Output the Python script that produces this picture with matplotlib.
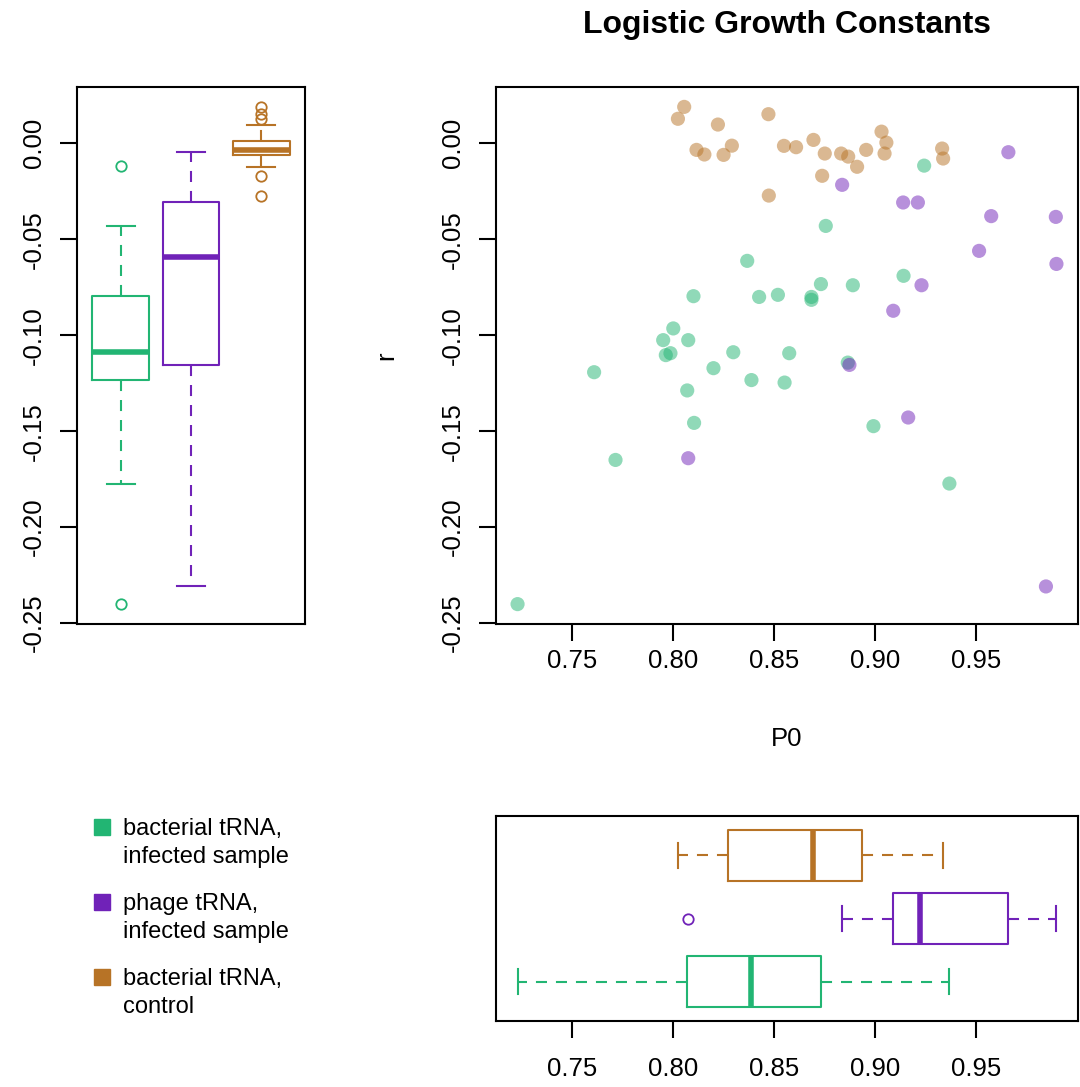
import matplotlib
matplotlib.use("Agg")  # non-interactive backend
import matplotlib.pyplot as plt
import numpy as np

plt.rcParams["font.family"] = ["Liberation Sans", "DejaVu Sans"]

# --- data ------------------------------------------------------------------
groups = [
    ["bacterial tRNA,", "infected sample"],
    ["phage tRNA,", "infected sample"],
    ["bacterial tRNA,", "control"],
]
colors = ["#22B573", "#7022B8", "#B77326"]

bact_p0 = [0.8365, 0.8099, 0.8424, 0.8517, 0.7999, 0.7949, 0.8073, 0.7962,
           0.7985, 0.8296, 0.8573, 0.7607, 0.8198, 0.8386, 0.8550, 0.8068,
           0.8102, 0.7713, 0.7228, 0.9241, 0.8754, 0.8730, 0.8683, 0.8683,
           0.8888, 0.9139, 0.8863, 0.8990, 0.9366]
bact_r = [-0.0613, -0.0797, -0.0801, -0.0790, -0.0965, -0.1026, -0.1026, -0.1104,
          -0.1094, -0.1089, -0.1094, -0.1193, -0.1172, -0.1234, -0.1247, -0.1288,
          -0.1457, -0.1650, -0.2401, -0.0117, -0.0431, -0.0734, -0.0801, -0.0816,
          -0.0740, -0.0691, -0.1143, -0.1474, -0.1773]

phage_p0 = [0.9658, 0.8835, 0.9137, 0.9210, 0.9573, 0.9893, 0.9513, 0.9896,
            0.9228, 0.9088, 0.8871, 0.9162, 0.9844, 0.8073]
phage_r = [-0.0047, -0.0217, -0.0309, -0.0309, -0.0380, -0.0384, -0.0561, -0.0629,
           -0.0740, -0.0873, -0.1155, -0.1429, -0.2309, -0.1641]

ctrl_p0 = [0.8053, 0.8022, 0.8220, 0.8470, 0.8114, 0.8153, 0.8248, 0.8289,
           0.8472, 0.8547, 0.8607, 0.8693, 0.8749, 0.8736, 0.8830, 0.8865,
           0.8909, 0.8954, 0.9030, 0.9054, 0.9045, 0.9330, 0.9335]
ctrl_r = [0.0189, 0.0127, 0.0097, 0.0151, -0.0035, -0.0059, -0.0061, -0.0013,
          -0.0273, -0.0014, -0.0021, 0.0017, -0.0054, -0.0170, -0.0054, -0.0070,
          -0.0123, -0.0035, 0.0060, 0.0003, -0.0054, -0.0028, -0.0080]

p0_sets = [bact_p0, phage_p0, ctrl_p0]
r_sets = [bact_r, phage_r, ctrl_r]

x_ticks = [0.75, 0.80, 0.85, 0.90, 0.95]
y_ticks = [0.0, -0.05, -0.10, -0.15, -0.20, -0.25]


def box_stats(vals):
    """Tukey hinges (R fivenum) with 1.5*IQR whiskers."""
    x = np.sort(np.asarray(vals, dtype=float))
    n = len(x)
    n4 = np.floor((n + 3) / 2) / 2
    d = np.array([1, n4, (n + 1) / 2, n + 1 - n4, n]) - 1
    q = 0.5 * (x[np.floor(d).astype(int)] + x[np.ceil(d).astype(int)])
    iqr = q[3] - q[1]
    lo, hi = q[1] - 1.5 * iqr, q[3] + 1.5 * iqr
    inside = x[(x >= lo) & (x <= hi)]
    return dict(med=q[2], q1=q[1], q3=q[3], whislo=inside.min(),
                whishi=inside.max(), fliers=x[(x < lo) | (x > hi)])


def draw_box(ax, vals, pos, color, orientation):
    lw = 1.5
    ax.bxp([box_stats(vals)], positions=[pos], widths=0.8,
           orientation=orientation, manage_ticks=False,
           boxprops=dict(color=color, lw=lw),
           medianprops=dict(color=color, lw=4.0, solid_capstyle="butt"),
           whiskerprops=dict(color=color, lw=lw, linestyle=(0, (5.3, 4.3))),
           capprops=dict(color=color, lw=lw),
           flierprops=dict(marker="o", markerfacecolor="none",
                           markeredgecolor=color, markersize=7.5,
                           markeredgewidth=1.3))


def limits(vals):
    lo, hi = min(vals), max(vals)
    pad = 0.04 * (hi - lo)
    return lo - pad, hi + pad


def style(ax):
    for sp in ax.spines.values():
        sp.set_linewidth(1.5)
    ax.tick_params(direction="out", length=12, width=1.5, labelsize=18.5)


W, H = 1080, 1087
fig = plt.figure(figsize=(W / 100, H / 100), dpi=100)


def px_axes(x0, y0, x1, y1):
    return fig.add_axes([x0 / W, 1 - y1 / H, (x1 - x0) / W, (y1 - y0) / H])


ax_left = px_axes(77, 87, 305, 624)
ax_main = px_axes(496, 87, 1078, 624)
ax_bot = px_axes(496, 816, 1078, 1021)

all_p0 = bact_p0 + phage_p0 + ctrl_p0
all_r = bact_r + phage_r + ctrl_r
xlim = limits(all_p0)
ylim = limits(all_r)

# scatter
for p0, r, c in zip(p0_sets, r_sets, colors):
    ax_main.scatter(p0, r, s=104, color=c, alpha=0.5, edgecolors="none")
ax_main.set_xlim(*xlim)
ax_main.set_ylim(*ylim)
ax_main.set_xticks(x_ticks, [f"{v:.2f}" for v in x_ticks])
ax_main.set_yticks(y_ticks, [f"{v:.2f}" for v in y_ticks])
style(ax_main)
ax_main.tick_params(axis="y", labelrotation=90, pad=10.5)
ax_main.tick_params(axis="x", pad=6)
ax_main.set_xlabel("P0", fontsize=18.5, va="center")
ax_main.xaxis.set_label_coords(0.5, -115 / 537)
ax_main.set_ylabel("r", fontsize=18.5, va="center", ha="center")
ax_main.yaxis.set_label_coords(-110 / 582, 0.5)

# left boxplot of r
for i, (r, c) in enumerate(zip(r_sets, colors)):
    draw_box(ax_left, r, i + 1, c, "vertical")
ax_left.set_xlim(limits([0.5, 3.5]))
ax_left.set_ylim(*ylim)
ax_left.set_xticks([])
ax_left.set_yticks(y_ticks, [f"{v:.2f}" for v in y_ticks])
style(ax_left)
ax_left.tick_params(axis="y", labelrotation=90, pad=10.5)

# bottom boxplot of P0
for i, (p0, c) in enumerate(zip(p0_sets, colors)):
    draw_box(ax_bot, p0, i + 1, c, "horizontal")
ax_bot.set_xlim(*xlim)
ax_bot.set_ylim(limits([0.5, 3.5]))
ax_bot.set_yticks([])
ax_bot.set_xticks(x_ticks, [f"{v:.2f}" for v in x_ticks])
style(ax_bot)
ax_bot.tick_params(axis="x", pad=14)

for ax in (ax_main, ax_left):
    for lab in ax.get_yticklabels():
        lab.set_va("center")

fig.text(787 / W, 1 - 25 / H, "Logistic Growth Constants", ha="center",
         va="center", fontsize=23, fontweight="bold")

# legend, drawn in pixel units like the base-R legend()
ax_leg = px_axes(0, 790, 480, 1087)
ax_leg.set_xlim(0, 480)
ax_leg.set_ylim(1087, 790)
ax_leg.axis("off")
for i, (lines, c) in enumerate(zip(groups, colors)):
    y = 827 + 75 * i
    ax_leg.plot([101.7], [y], marker="s", ms=11, color=c, linestyle="none")
    for j, line in enumerate(lines):
        ax_leg.text(123, y + 8 + 28 * j, line, fontsize=17, va="baseline")

fig.savefig("out.png", dpi=100)
